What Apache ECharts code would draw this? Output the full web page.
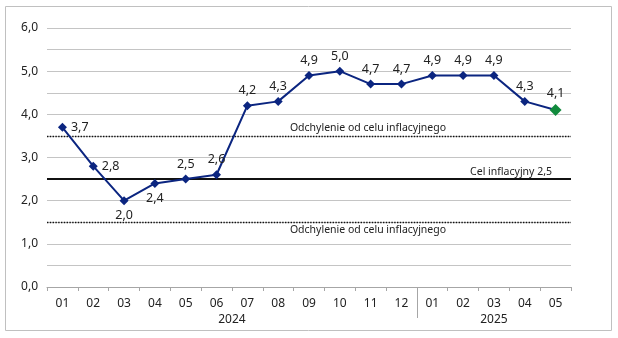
<!DOCTYPE html>
<html><head><meta charset="utf-8">
<script src="https://cdn.jsdelivr.net/npm/echarts@6/dist/echarts.min.js"></script>
<style>html,body{margin:0;padding:0;background:#fff}#c{width:618px;height:338px}</style>
</head><body><div id="c"></div>
<script>
const months = ['01','02','03','04','05','06','07','08','09','10','11','12','01','02','03','04','05'];
const values = [3.7,2.8,2.0,2.4,2.5,2.6,4.2,4.3,4.9,5.0,4.7,4.7,4.9,4.9,4.9,4.3,4.1];
const labelPos = ['right','right','bottom','bottom','top','top','top','top','top','top','top','top','top','top','top','top','top'];
const years = [{name:'2024', from:0, to:11},{name:'2025', from:12, to:16}];
const target = 2.5, upperBand = 3.5, lowerBand = 1.5;
const targetLabel = 'Cel inflacyjny 2,5';
const bandLabel = 'Odchylenie od celu inflacyjnego';
const yTicks = [0,1,2,3,4,5,6];

const FONT = 'Noto Sans';
const fmt = v => v.toFixed(1).replace('.', ',');
const chart = echarts.init(document.getElementById('c'));
const navy = '#0b2580', green = '#118a3c';

const data = values.map((v,i) => {
  const last = i === values.length - 1;
  return {
    value: v,
    symbolSize: last ? 12 : 9,
    itemStyle: {color: last ? green : navy},
    label: {position: labelPos[i]}
  };
});

chart.setOption({
  animation: false,
  textStyle: {fontFamily: FONT},
  grid: {left: 47, right: 47, top: 28, bottom: 51},
  xAxis: {
    type: 'category', data: months, boundaryGap: true,
    axisLine: {lineStyle: {color: '#a6a6a6', width: 1}},
    axisTick: {show: true, length: 4, lineStyle: {color: '#a6a6a6'}},
    axisLabel: {color: '#222', fontSize: 12, margin: 11, fontFamily: FONT}
  },
  yAxis: {
    type: 'value', min: 0, max: 6, interval: 0.5,
    axisLine: {show: false}, axisTick: {show: false},
    splitLine: {lineStyle: {color: '#c4c4c4', width: 1}},
    axisLabel: {
      color: '#222', fontSize: 12, margin: 9, fontFamily: FONT,
      formatter: v => (yTicks.indexOf(v) >= 0 ? fmt(v) : '')
    }
  },
  series: [{
    type: 'line', data: data,
    symbol: 'diamond',
    lineStyle: {color: navy, width: 2},
    itemStyle: {color: navy},
    z: 5,
    label: {show: true, color: '#222', fontSize: 12.5, fontFamily: FONT, distance: 4,
      formatter: p => fmt(p.value)},
    markLine: {
      silent: true, symbol: 'none',
      data: [
        {yAxis: upperBand, lineStyle: {color: '#111', type: 'dotted', width: 1.4},
          label: {show: true, formatter: bandLabel, position: 'insideMiddleTop', offset: [59, 0], distance: 2}},
        {yAxis: target, lineStyle: {color: '#111', type: 'solid', width: 2},
          label: {show: true, formatter: targetLabel, position: 'insideEndTop', distance: 2, offset: [-17, 0]}},
        {yAxis: lowerBand, lineStyle: {color: '#111', type: 'dotted', width: 1.4},
          label: {show: true, formatter: bandLabel, position: 'insideMiddleBottom', offset: [59, 0], distance: 2}}
      ],
      label: {color: '#222', fontSize: 10.5, fontFamily: FONT}
    }
  }]
});

const g = [];
g.push({type: 'rect', shape: {x: 5.5, y: 6.5, width: 606, height: 324}, style: {fill: 'none', stroke: '#c0c0c0', lineWidth: 1}, z: -1});
const y0 = chart.convertToPixel({yAxisIndex: 0}, 0);
years.forEach(yr => {
  const a = chart.convertToPixel({xAxisIndex: 0}, yr.from);
  const b = chart.convertToPixel({xAxisIndex: 0}, yr.to);
  g.push({type: 'text', x: (a + b) / 2, y: y0 + 27, style: {text: yr.name, fill: '#222', font: '12px "' + FONT + '"', textAlign: 'center', textVerticalAlign: 'top'}});
});
const sepA = chart.convertToPixel({xAxisIndex: 0}, 11);
const sepB = chart.convertToPixel({xAxisIndex: 0}, 12);
const sx = Math.round((sepA + sepB) / 2) + 0.5;
g.push({type: 'line', shape: {x1: sx, y1: y0, x2: sx, y2: y0 + 31}, style: {stroke: '#a6a6a6', lineWidth: 1}});
chart.setOption({graphic: g});
</script>
</body></html>
